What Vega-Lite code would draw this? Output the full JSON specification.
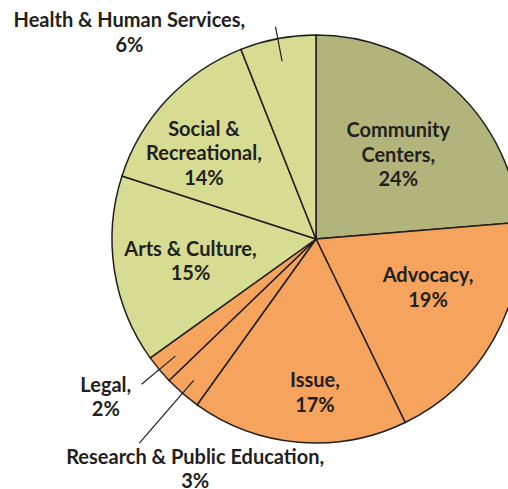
{
  "$schema": "https://vega.github.io/schema/vega-lite/v6.json",
  "width": 508,
  "height": 489,
  "padding": 0,
  "autosize": {"type": "none"},
  "background": "white",
  "config": {"view": {"stroke": null}},
  "data": {
    "values": [
      {"category": "Community Centers", "value": 23.7, "order": 1, "label": "Community\nCenters,\n24%"},
      {"category": "Advocacy", "value": 19.1, "order": 2, "label": "Advocacy,\n19%"},
      {"category": "Issue", "value": 17.1, "order": 3, "label": "Issue,\n17%"},
      {"category": "Research & Public Education", "value": 2.9, "order": 4, "label": "Research & Public Education,\n3%"},
      {"category": "Legal", "value": 2.3, "order": 5, "label": "Legal,\n2%"},
      {"category": "Arts & Culture", "value": 14.9, "order": 6, "label": "Arts & Culture,\n15%"},
      {"category": "Social & Recreational", "value": 14.0, "order": 7, "label": "Social &\nRecreational,\n14%"},
      {"category": "Health & Human Services", "value": 6.0, "order": 8, "label": "Health & Human Services,\n6%"}
    ]
  },
  "encoding": {
    "theta": {"field": "value", "type": "quantitative", "stack": true},
    "order": {"field": "order", "type": "quantitative", "sort": "ascending"},
    "detail": {"field": "category", "type": "nominal"}
  },
  "layer": [
    {
      "mark": {"type": "arc", "x": 316, "y": 239, "outerRadius": 204, "stroke": "#231f20", "strokeWidth": 1.5},
      "encoding": {
        "color": {
          "field": "category",
          "type": "nominal",
          "legend": null,
          "scale": {
            "domain": ["Community Centers", "Advocacy", "Issue", "Research & Public Education", "Legal", "Arts & Culture", "Social & Recreational", "Health & Human Services"],
            "range": ["#b2b57b", "#f6a35d", "#f6a35d", "#f6a35d", "#f6a35d", "#d6dc91", "#d6dc91", "#d6dc91"]
          }
        }
      }
    },
    {
      "mark": {"type": "arc", "x": 316, "y": 239, "innerRadius": 183, "outerRadius": 227, "padAngle": 3, "fillOpacity": 0, "stroke": "#231f20", "strokeWidth": 1.2},
      "encoding": {
        "strokeOpacity": {"condition": {"test": "datum.category === 'Legal'", "value": 1}, "value": 0}
      }
    },
    {
      "mark": {"type": "arc", "x": 316, "y": 239, "innerRadius": 181, "outerRadius": 216, "padAngle": 3, "fillOpacity": 0, "stroke": "#231f20", "strokeWidth": 1.2},
      "encoding": {
        "strokeOpacity": {"condition": {"test": "datum.category === 'Health & Human Services'", "value": 1}, "value": 0}
      }
    },
    {
      "mark": {"type": "arc", "x": 316, "y": 239, "innerRadius": 187, "outerRadius": 270, "padAngle": 3, "fillOpacity": 0, "stroke": "#231f20", "strokeWidth": 1.2},
      "encoding": {
        "strokeOpacity": {"condition": {"test": "datum.category === 'Research & Public Education'", "value": 1}, "value": 0}
      }
    },
    {
      "mark": {"type": "text", "x": 316, "y": 239, "radius": 117, "dx": 3, "dy": -21.5, "font": "Lato", "fontWeight": "bold", "fontSize": 20, "lineHeight": 24.5, "lineBreak": "\n", "align": "center", "baseline": "middle", "color": "#231f20"},
      "encoding": {"text": {"condition": {"test": "datum.category === 'Community Centers'", "field": "label"}, "value": ""}}
    },
    {
      "mark": {"type": "text", "x": 316, "y": 239, "radius": 122, "dx": 6, "dy": -23, "font": "Lato", "fontWeight": "bold", "fontSize": 20, "lineHeight": 24.5, "lineBreak": "\n", "align": "center", "baseline": "middle", "color": "#231f20"},
      "encoding": {"text": {"condition": {"test": "datum.category === 'Advocacy'", "field": "label"}, "value": ""}}
    },
    {
      "mark": {"type": "text", "x": 316, "y": 239, "radius": 154, "dx": 12, "dy": -11, "font": "Lato", "fontWeight": "bold", "fontSize": 20, "lineHeight": 24.5, "lineBreak": "\n", "align": "center", "baseline": "middle", "color": "#231f20"},
      "encoding": {"text": {"condition": {"test": "datum.category === 'Issue'", "field": "label"}, "value": ""}}
    },
    {
      "mark": {"type": "text", "x": 316, "y": 239, "radius": 255, "dx": 46, "dy": 26, "font": "Lato", "fontWeight": "bold", "fontSize": 20, "lineHeight": 24, "lineBreak": "\n", "align": "center", "baseline": "middle", "color": "#231f20"},
      "encoding": {"text": {"condition": {"test": "datum.category === 'Research & Public Education'", "field": "label"}, "value": ""}}
    },
    {
      "mark": {"type": "text", "x": 316, "y": 239, "radius": 267, "dx": -5, "dy": -24, "font": "Lato", "fontWeight": "bold", "fontSize": 20, "lineHeight": 24.5, "lineBreak": "\n", "align": "center", "baseline": "middle", "color": "#231f20"},
      "encoding": {"text": {"condition": {"test": "datum.category === 'Legal'", "field": "label"}, "value": ""}}
    },
    {
      "mark": {"type": "text", "x": 316, "y": 239, "radius": 128, "dx": 1, "dy": -9, "font": "Lato", "fontWeight": "bold", "fontSize": 20, "lineHeight": 24.5, "lineBreak": "\n", "align": "center", "baseline": "middle", "color": "#231f20"},
      "encoding": {"text": {"condition": {"test": "datum.category === 'Arts & Culture'", "field": "label"}, "value": ""}}
    },
    {
      "mark": {"type": "text", "x": 316, "y": 239, "radius": 140, "dx": -10, "dy": -13.5, "font": "Lato", "fontWeight": "bold", "fontSize": 20, "lineHeight": 24.5, "lineBreak": "\n", "align": "center", "baseline": "middle", "color": "#231f20"},
      "encoding": {"text": {"condition": {"test": "datum.category === 'Social & Recreational'", "field": "label"}, "value": ""}}
    },
    {
      "mark": {"type": "text", "x": 316, "y": 239, "radius": 238, "dx": -142, "dy": 16, "font": "Lato", "fontWeight": "bold", "fontSize": 20, "lineHeight": 24.5, "lineBreak": "\n", "align": "center", "baseline": "middle", "color": "#231f20"},
      "encoding": {"text": {"condition": {"test": "datum.category === 'Health & Human Services'", "field": "label"}, "value": ""}}
    }
  ]
}
